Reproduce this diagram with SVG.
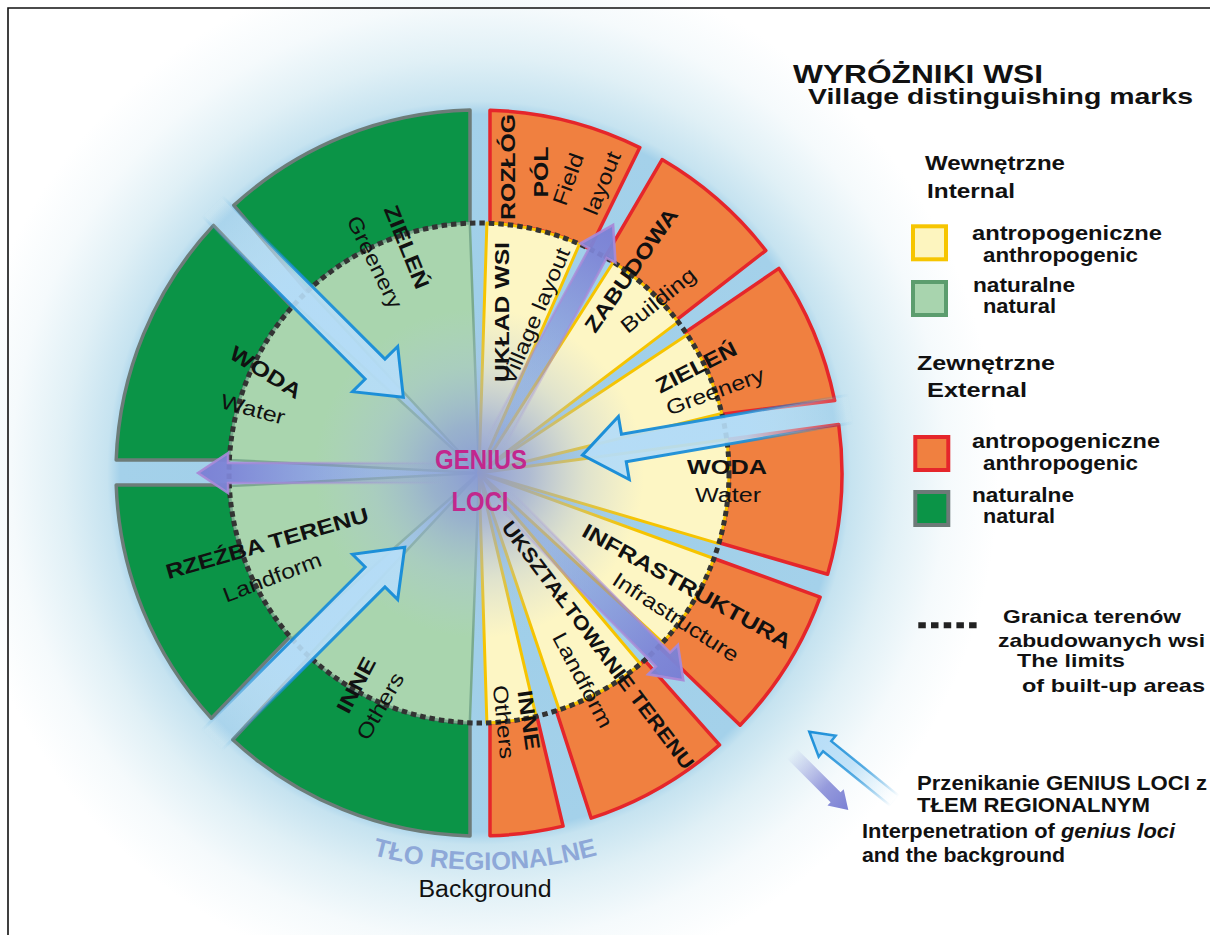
<svg xmlns="http://www.w3.org/2000/svg" width="1210" height="935" viewBox="0 0 1210 935">
<defs>
<style>
text{font-family:"Liberation Sans",Arial,Helvetica,sans-serif;fill:#111}
.lb{font-weight:700;font-size:21px;text-anchor:middle;dominant-baseline:central}
.lr{font-weight:400;font-size:21px;text-anchor:middle;dominant-baseline:central}
.lg{font-weight:700;font-size:19.5px}
.gl{font-weight:700;font-size:27px;text-anchor:middle;dominant-baseline:central;fill:#c2278d}
.og{fill:#0b9447;stroke:#6d7c79;stroke-width:3.5;stroke-linejoin:round}
.ig{fill:#a9d5ae;stroke:#7aaa8d;stroke-width:2.5;stroke-linejoin:round}
.oo{fill:#f08040;stroke:#e5262b;stroke-width:3.5;stroke-linejoin:round}
.iy{fill:#fdf6c4;stroke:#f6c400;stroke-width:3;stroke-linejoin:round}
.ba{fill:url(#blueFill);stroke:url(#blueStroke);stroke-width:3;stroke-linejoin:miter}
.pa{fill:url(#purpFill);stroke:url(#purpStroke);stroke-width:2.5}
</style>
<radialGradient id="bgGlow" gradientUnits="userSpaceOnUse" cx="479" cy="473" r="520">
<stop offset="0" stop-color="#9ccde8"/>
<stop offset="0.69" stop-color="#a4d1ea"/>
<stop offset="0.715" stop-color="#c6e3f0"/>
<stop offset="0.8" stop-color="#e0f0f6"/>
<stop offset="0.9" stop-color="#f5fafc"/>
<stop offset="1" stop-color="#ffffff"/>
</radialGradient>
<radialGradient id="cGlow" gradientUnits="userSpaceOnUse" cx="479" cy="473" r="165">
<stop offset="0" stop-color="#8797d6" stop-opacity="0.95"/>
<stop offset="0.3" stop-color="#93a6d6" stop-opacity="0.75"/>
<stop offset="0.65" stop-color="#a9bfdc" stop-opacity="0.35"/>
<stop offset="1" stop-color="#b5c8e0" stop-opacity="0"/>
</radialGradient>
<linearGradient id="blueFill" gradientUnits="userSpaceOnUse" x1="107" y1="0" x2="378" y2="0">
<stop offset="0" stop-color="#b6ddf7" stop-opacity="0.95"/>
<stop offset="0.6" stop-color="#b6ddf7" stop-opacity="0.9"/>
<stop offset="1" stop-color="#cfe9f7" stop-opacity="0"/>
</linearGradient>
<linearGradient id="blueStroke" gradientUnits="userSpaceOnUse" x1="107" y1="0" x2="378" y2="0">
<stop offset="0" stop-color="#1a8ed8"/>
<stop offset="0.6" stop-color="#1a8ed8" stop-opacity="0.9"/>
<stop offset="1" stop-color="#1a8ed8" stop-opacity="0"/>
</linearGradient>
<linearGradient id="purpFill" gradientUnits="userSpaceOnUse" x1="35" y1="0" x2="292" y2="0">
<stop offset="0" stop-color="#8a8fd8" stop-opacity="0"/>
<stop offset="0.5" stop-color="#8489d6" stop-opacity="0.55"/>
<stop offset="0.85" stop-color="#7d84d6" stop-opacity="0.95"/>
<stop offset="1" stop-color="#7a80d4"/>
</linearGradient>
<linearGradient id="purpStroke" gradientUnits="userSpaceOnUse" x1="35" y1="0" x2="292" y2="0">
<stop offset="0" stop-color="#a88ad8" stop-opacity="0"/>
<stop offset="0.6" stop-color="#a88ad8" stop-opacity="0.7"/>
<stop offset="1" stop-color="#a88ad8"/>
</linearGradient>
<linearGradient id="sBlueFill" gradientUnits="userSpaceOnUse" x1="0" y1="0" x2="110" y2="0">
<stop offset="0" stop-color="#b6ddf7"/>
<stop offset="0.5" stop-color="#b6ddf7" stop-opacity="0.8"/>
<stop offset="1" stop-color="#d8eef8" stop-opacity="0"/>
</linearGradient>
<linearGradient id="sBlueStroke" gradientUnits="userSpaceOnUse" x1="0" y1="0" x2="110" y2="0">
<stop offset="0" stop-color="#1a8ed8"/>
<stop offset="0.6" stop-color="#1a8ed8" stop-opacity="0.7"/>
<stop offset="1" stop-color="#1a8ed8" stop-opacity="0"/>
</linearGradient>
<linearGradient id="sPurpFill" gradientUnits="userSpaceOnUse" x1="0" y1="0" x2="80" y2="0">
<stop offset="0" stop-color="#7a80d4"/>
<stop offset="0.4" stop-color="#8489d6" stop-opacity="0.85"/>
<stop offset="1" stop-color="#8a8fd8" stop-opacity="0"/>
</linearGradient>
</defs>

<rect x="0" y="0" width="1210" height="935" fill="#ffffff"/>
<circle cx="479" cy="473" r="520" fill="url(#bgGlow)"/>
<path d="M8,935 V8 H1210" fill="none" stroke="#111" stroke-width="1.6"/>

<g id="zew-zielen-l"><path class="og" d="M470,223.2 L470,110.1 A363,363 0 0 0 233.8,205.4 L307.2,291.3 A250,250 0 0 1 470,223.2 Z"/></g>
<g id="zew-woda-l"><path class="og" d="M292,307 L213.5,225.4 A363,363 0 0 0 116.2,460 L229.3,460 A250,250 0 0 1 292,307 Z"/></g>
<g id="zew-rzezba-l"><path class="og" d="M229.3,485 L116.2,485 A363,363 0 0 0 211.4,718.2 L290,636.7 A250,250 0 0 1 229.3,485 Z"/></g>
<g id="zew-inne-l"><path class="og" d="M309.5,656.7 L232.8,739.8 A363,363 0 0 0 470,835.9 L470,722.8 A250,250 0 0 1 309.5,656.7 Z"/></g>

<g id="zew-rozlog"><path class="oo" d="M490,223.2 L490,110.2 A363,363 0 0 1 639.8,147.6 L589.8,248.9 A250,250 0 0 0 490,223.2 Z"/></g>
<g id="zew-zabudowa"><path class="oo" d="M605.1,257.2 L662.1,159.6 A363,363 0 0 1 765.8,250.5 L676.6,319.8 A250,250 0 0 0 605.1,257.2 Z"/></g>
<g id="zew-zielen-r"><path class="oo" d="M685.5,332.1 L778.9,268.4 A363,363 0 0 1 834.7,400.6 L722,414.2 A250,250 0 0 0 685.5,332.1 Z"/></g>
<g id="zew-woda-r"><path class="oo" d="M726.7,439.5 L838.7,424.4 A363,363 0 0 1 827.6,574.3 L719.1,542.7 A250,250 0 0 0 726.7,439.5 Z"/></g>
<g id="zew-infra"><path class="oo" d="M713.9,558.5 L820.1,597.1 A363,363 0 0 1 740.1,725.2 L658.8,646.7 A250,250 0 0 0 713.9,558.5 Z"/></g>
<g id="zew-uksztalt"><path class="oo" d="M644.7,660.3 L719.5,744.9 A363,363 0 0 1 591.2,818.2 L556.3,710.8 A250,250 0 0 0 644.7,660.3 Z"/></g>
<g id="zew-inne-r"><path class="oo" d="M536.9,716.2 L563.1,826.1 A363,363 0 0 1 490,835.8 L490,722.8 A250,250 0 0 0 536.9,716.2 Z"/></g>

<g id="wew-zielen-l"><path class="ig" d="M479,473 L469.8,223.2 A250,250 0 0 0 308.5,290.2 Z"/></g>
<g id="wew-woda-l"><path class="ig" d="M479,473 L294.7,304.1 A250,250 0 0 0 229.3,459.9 Z"/></g>
<g id="wew-rzezba-l"><path class="ig" d="M479,473 L229.3,486.1 A250,250 0 0 0 291.8,638.7 Z"/></g>
<g id="wew-inne-l"><path class="ig" d="M479,473 L308.5,655.9 A250,250 0 0 0 469.8,722.8 Z"/></g>

<g id="wew-uklad"><path class="iy" d="M479,473 L486.9,223.1 A250,250 0 0 1 579.5,244.1 Z"/></g>
<g id="wew-zabudowa"><path class="iy" d="M479,473 L613.3,262.2 A250,250 0 0 1 678.1,321.9 Z"/></g>
<g id="wew-zielen-r"><path class="iy" d="M479,473 L687.2,334.7 A250,250 0 0 1 721.8,413.4 Z"/></g>
<g id="wew-woda-r"><path class="iy" d="M479,473 L726.8,439.5 A250,250 0 0 1 718.8,543.6 Z"/></g>
<g id="wew-infra"><path class="iy" d="M479,473 L713.9,558.5 A250,250 0 0 1 662.7,642.6 Z"/></g>
<g id="wew-uksztalt"><path class="iy" d="M479,473 L640.4,664 A250,250 0 0 1 559.2,709.8 Z"/></g>
<g id="wew-inne-r"><path class="iy" d="M479,473 L536.1,716.4 A250,250 0 0 1 486.9,722.9 Z"/></g>

<g id="genius-glow"><circle cx="479" cy="473" r="165" fill="url(#cGlow)"/></g>

<g id="granica"><circle cx="479" cy="473" r="250" fill="none" stroke="#333" stroke-width="5" stroke-dasharray="5.5 4"/></g>

<g id="connectors">
<path class="ba" transform="translate(479,473) rotate(-135)" d="M107,0 L147,-32 L147,-14 L378,-14 L378,14 L147,14 L147,32 Z"/>
<path class="ba" transform="translate(479,473) rotate(-9.8)" d="M105,0 L147,-32 L147,-14 L378,-14 L378,14 L147,14 L147,32 Z"/>
<path class="ba" transform="translate(479,473) rotate(135)" d="M105,0 L147,-32 L147,-14 L378,-14 L378,14 L147,14 L147,32 Z"/>
<path class="pa" transform="translate(479,473) rotate(180)" d="M281,0 L251,-20 L251,-10 L35,-10 L35,10 L251,10 L251,20 Z"/>
<path class="pa" transform="translate(479,473) rotate(-61.6)" d="M282,0 L250,-20 L250,-10 L35,-10 L35,10 L250,10 L250,20 Z"/>
<path class="pa" transform="translate(479,473) rotate(45.4)" d="M291,0 L262,-21 L262,-10 L35,-10 L35,10 L262,10 L262,21 Z"/>
</g>

<g id="label-zielen-l">
<text class="lb" transform="translate(407,247) rotate(68)" textLength="88" lengthAdjust="spacingAndGlyphs">ZIELEŃ</text>
<text class="lr" transform="translate(375,262) rotate(64)" textLength="100" lengthAdjust="spacingAndGlyphs">Greenery</text>
</g>
<g id="label-woda-l">
<text class="lb" transform="translate(266,372) rotate(32)" textLength="80" lengthAdjust="spacingAndGlyphs">WODA</text>
<text class="lr" transform="translate(253,409) rotate(15)" textLength="66" lengthAdjust="spacingAndGlyphs">Water</text>
</g>
<g id="label-rzezba-l">
<text class="lb" transform="translate(267,543) rotate(-16)" textLength="210" lengthAdjust="spacingAndGlyphs">RZEŹBA TERENU</text>
<text class="lr" transform="translate(272,577) rotate(-21)" textLength="104" lengthAdjust="spacingAndGlyphs">Landform</text>
</g>
<g id="label-inne-l">
<text class="lb" transform="translate(356,685) rotate(-62)" textLength="60" lengthAdjust="spacingAndGlyphs">INNE</text>
<text class="lr" transform="translate(380,706) rotate(-60)" textLength="74" lengthAdjust="spacingAndGlyphs">Others</text>
</g>
<g id="label-rozlog">
<text class="lb" transform="translate(507,167) rotate(-90)" textLength="106" lengthAdjust="spacingAndGlyphs">ROZŁÓG</text>
<text class="lb" transform="translate(540,172) rotate(-90)" textLength="51" lengthAdjust="spacingAndGlyphs">PÓL</text>
<text class="lr" transform="translate(568,179) rotate(-70)" textLength="54" lengthAdjust="spacingAndGlyphs">Field</text>
<text class="lr" transform="translate(602,183) rotate(-68)" textLength="66" lengthAdjust="spacingAndGlyphs">layout</text>
</g>
<g id="label-uklad">
<text class="lb" transform="translate(501,312) rotate(-90)" textLength="140" lengthAdjust="spacingAndGlyphs">UKŁAD WSI</text>
<text class="lr" transform="translate(535,316) rotate(-67)" textLength="146" lengthAdjust="spacingAndGlyphs">Village layout</text>
</g>
<g id="label-zabudowa">
<text class="lb" transform="translate(631,270) rotate(-55)" textLength="146" lengthAdjust="spacingAndGlyphs">ZABUDOWA</text>
<text class="lr" transform="translate(658,300) rotate(-39)" textLength="90" lengthAdjust="spacingAndGlyphs">Building</text>
</g>
<g id="label-zielen-r">
<text class="lb" transform="translate(696,367) rotate(-27)" textLength="88" lengthAdjust="spacingAndGlyphs">ZIELEŃ</text>
<text class="lr" transform="translate(715,391) rotate(-20)" textLength="103" lengthAdjust="spacingAndGlyphs">Greenery</text>
</g>
<g id="label-woda-r">
<text class="lb" transform="translate(727,466)" textLength="80" lengthAdjust="spacingAndGlyphs">WODA</text>
<text class="lr" transform="translate(728,494)" textLength="66" lengthAdjust="spacingAndGlyphs">Water</text>
</g>
<g id="label-infra">
<text class="lb" transform="translate(687,586) rotate(29)" textLength="235" lengthAdjust="spacingAndGlyphs">INFRASTRUKTURA</text>
<text class="lr" transform="translate(676,617) rotate(33)" textLength="146" lengthAdjust="spacingAndGlyphs">Infrastructure</text>
</g>
<g id="label-uksztalt">
<text class="lb" style="font-size:20px" transform="translate(598,645) rotate(53)" textLength="305" lengthAdjust="spacingAndGlyphs">UKSZTAŁTOWANIE TERENU</text>
<text class="lr" transform="translate(583,680) rotate(62)" textLength="105" lengthAdjust="spacingAndGlyphs">Landform</text>
</g>
<g id="label-inne-r">
<text class="lb" transform="translate(529,720) rotate(82)" textLength="60" lengthAdjust="spacingAndGlyphs">INNE</text>
<text class="lr" transform="translate(504,722) rotate(84)" textLength="74" lengthAdjust="spacingAndGlyphs">Others</text>
</g>
<g id="genius-loci">
<text class="gl" transform="translate(481,460)" textLength="92" lengthAdjust="spacingAndGlyphs">GENIUS</text>
<text class="gl" transform="translate(480,502)" textLength="57" lengthAdjust="spacingAndGlyphs">LOCI</text>
</g>
<g id="tlo-regionalne">
<path id="tloPath" d="M302.4,829.5 A432,432 0 0 0 667.6,829.5" fill="none"/>
<text style="font-weight:700;font-size:25.5px;fill:#8ea8d8;text-anchor:middle"><textPath href="#tloPath" startOffset="50%">TŁO REGIONALNE</textPath></text>
<text style="font-size:23px;text-anchor:middle" x="485" y="896.7" textLength="133" lengthAdjust="spacingAndGlyphs">Background</text>
</g>

<g id="legend-title">
<text class="lg" style="font-size:25.5px" x="793" y="82.5" textLength="250" lengthAdjust="spacingAndGlyphs">WYRÓŻNIKI WSI</text>
<text class="lg" style="font-size:22.5px" x="808" y="103.8" textLength="385" lengthAdjust="spacingAndGlyphs">Village distinguishing marks</text>
</g>
<g id="legend-internal">
<text class="lg" style="font-size:20px" x="925" y="170" textLength="140" lengthAdjust="spacingAndGlyphs">Wewnętrzne</text>
<text class="lg" style="font-size:20px" x="927" y="198.3" textLength="88" lengthAdjust="spacingAndGlyphs">Internal</text>
</g>
<g id="legend-int-anthro">
<rect x="913" y="226.3" width="33" height="33" fill="#fdf5bf" stroke="#f6c500" stroke-width="4"/>
<text class="lg" x="972" y="240" textLength="190" lengthAdjust="spacingAndGlyphs">antropogeniczne</text>
<text class="lg" x="983" y="261.7" textLength="155" lengthAdjust="spacingAndGlyphs">anthropogenic</text>
</g>
<g id="legend-int-nat">
<rect x="913" y="282" width="33" height="33" fill="#a8d4ae" stroke="#5c9d6e" stroke-width="4"/>
<text class="lg" x="973" y="291.7" textLength="102" lengthAdjust="spacingAndGlyphs">naturalne</text>
<text class="lg" x="983" y="313.3" textLength="73" lengthAdjust="spacingAndGlyphs">natural</text>
</g>
<g id="legend-external">
<text class="lg" style="font-size:20px" x="917" y="370" textLength="138" lengthAdjust="spacingAndGlyphs">Zewnętrzne</text>
<text class="lg" style="font-size:20px" x="927" y="396.7" textLength="100" lengthAdjust="spacingAndGlyphs">External</text>
</g>
<g id="legend-ext-anthro">
<rect x="915.3" y="437" width="33" height="33" fill="#f08040" stroke="#e5262b" stroke-width="4"/>
<text class="lg" x="972" y="448.3" textLength="188" lengthAdjust="spacingAndGlyphs">antropogeniczne</text>
<text class="lg" x="983" y="470" textLength="155" lengthAdjust="spacingAndGlyphs">anthropogenic</text>
</g>
<g id="legend-ext-nat">
<rect x="915.3" y="492" width="33" height="33" fill="#0b9447" stroke="#6d7a78" stroke-width="4"/>
<text class="lg" x="972" y="501.7" textLength="102" lengthAdjust="spacingAndGlyphs">naturalne</text>
<text class="lg" x="983" y="523.3" textLength="72" lengthAdjust="spacingAndGlyphs">natural</text>
</g>
<g id="legend-granica">
<line x1="918.3" y1="625.3" x2="976.7" y2="625.3" stroke="#222" stroke-width="6" stroke-dasharray="7.5 5.2"/>
<text class="lg" style="font-size:18.5px" x="1003" y="623.3" textLength="178" lengthAdjust="spacingAndGlyphs">Granica terenów</text>
<text class="lg" style="font-size:18.5px" x="998" y="646.7" textLength="207" lengthAdjust="spacingAndGlyphs">zabudowanych wsi</text>
<text class="lg" style="font-size:18.5px" x="1017" y="666.7" textLength="108" lengthAdjust="spacingAndGlyphs">The limits</text>
<text class="lg" style="font-size:18.5px" x="1022" y="691.7" textLength="183" lengthAdjust="spacingAndGlyphs">of built-up areas</text>
</g>
<g id="legend-przenikanie">
<path transform="translate(809.3,731.7) rotate(39)" d="M0,0 L23,-13.5 L23,-6.5 L110,-6.5 L110,6.5 L23,6.5 L23,13.5 Z" fill="url(#sBlueFill)" stroke="url(#sBlueStroke)" stroke-width="2.5"/>
<path transform="translate(848.3,810) rotate(-135)" d="M0,0 L18,-11.5 L18,-7 L80,-7 L80,7 L18,7 L18,11.5 Z" fill="url(#sPurpFill)"/>
<text class="lg" style="font-size:20px" x="917" y="790" textLength="290" lengthAdjust="spacingAndGlyphs">Przenikanie GENIUS LOCI z</text>
<text class="lg" style="font-size:20px" x="917" y="811.7" textLength="233" lengthAdjust="spacingAndGlyphs">TŁEM REGIONALNYM</text>
<text class="lg" style="font-size:20px" x="862" y="838.3" textLength="313" lengthAdjust="spacingAndGlyphs">Interpenetration of <tspan style="font-style:italic">genius loci</tspan></text>
<text class="lg" style="font-size:20px" x="862" y="861.7" textLength="203" lengthAdjust="spacingAndGlyphs">and the background</text>
</g>
</svg>
